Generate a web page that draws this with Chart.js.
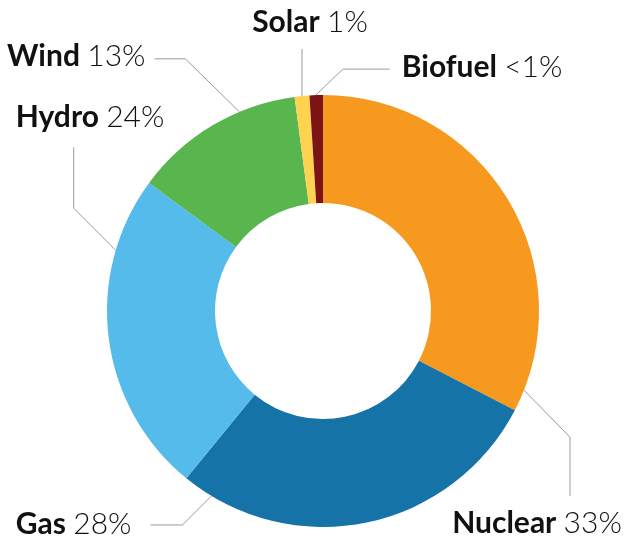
<!DOCTYPE html>
<html>
<head>
<meta charset="utf-8">
<script src="https://cdn.jsdelivr.net/npm/chart.js@4"></script>
<style>
  body { margin: 0; background: #fff; }
  canvas { display: block; }
</style>
</head>
<body>
<canvas id="chart" width="636" height="542"></canvas>
<script>
const categories = ["Nuclear", "Gas", "Hydro", "Wind", "Solar", "Biofuel"];
const shares = [32.6, 28.3, 24.2, 12.8, 1.1, 1.0];
const shareLabels = ["33%", "28%", "24%", "13%", "1%", "<1%"];
const colors = ["#F7991F", "#1573A8", "#55BBEA", "#59B54E", "#FFD24F", "#7C1416"];

// where each leader line leaves its slice (t = fraction along the arc),
// its two segments, and where the label sits relative to the line end
const leaders = [
    { t: 0.95, bend: [46, 47], end: [0, 59], align: "center", text: [-33, 37] },
    { t: 0.92, bend: [-29, 29], end: [-32, 0], align: "right", text: [-19, 9] },
    { t: 0.77, bend: [-42, -42], end: [0, -61], align: "left", text: [-58, -20] },
    { t: 0.67, bend: [-54, -53], end: [-31, 0], align: "right", text: [-9, 7] },
    { t: 0.5, bend: [0, -47], end: [0, 0], align: "center", text: [8, -17] },
    { t: 0.47, bend: [27, -26], end: [47, 0], align: "left", text: [12, 8] }
];

const FONT = "Lato, 'Open Sans', sans-serif";
const SIZE = 30;

const leaderPlugin = {
    id: "leaders",
    afterDraw(chart) {
        const ctx = chart.ctx;
        const meta = chart.getDatasetMeta(0);
        meta.data.forEach((arc, i) => {
            const p = arc.getProps(["x", "y", "startAngle", "endAngle", "outerRadius"], true);
            const l = leaders[i];
            const a = p.startAngle + l.t * (p.endAngle - p.startAngle);
            const x0 = p.x + Math.cos(a) * p.outerRadius;
            const y0 = p.y + Math.sin(a) * p.outerRadius;
            const x1 = x0 + l.bend[0], y1 = y0 + l.bend[1];
            const x2 = x1 + l.end[0], y2 = y1 + l.end[1];

            ctx.save();
            ctx.strokeStyle = "#9a9a9a";
            ctx.lineWidth = 1;
            ctx.beginPath();
            ctx.moveTo(x0, y0);
            ctx.lineTo(x1, y1);
            ctx.lineTo(x2, y2);
            ctx.stroke();

            // bold name + light percentage
            const name = categories[i] + " ";
            const pct = shareLabels[i];
            const boldFont = "bold " + SIZE + "px " + FONT;
            const lightFont = "300 " + SIZE + "px " + FONT;
            ctx.font = boldFont;
            const w1 = ctx.measureText(name).width;
            ctx.font = lightFont;
            const w2 = ctx.measureText(pct).width;
            const total = w1 + w2;
            let tx = x2 + l.text[0];
            if (l.align === "center") tx -= total / 2;
            if (l.align === "right") tx -= total;
            const ty = y2 + l.text[1];

            ctx.fillStyle = "#111";
            ctx.textAlign = "left";
            ctx.textBaseline = "alphabetic";
            ctx.font = boldFont;
            ctx.fillText(name, tx, ty);
            ctx.font = lightFont;
            ctx.fillText(pct, tx + w1, ty);
            ctx.restore();
        });
    }
};

const ctx = document.getElementById("chart").getContext("2d");
const chart = new Chart(ctx, {
    type: "doughnut",
    data: {
        labels: categories,
        datasets: [{
            data: shares,
            backgroundColor: colors,
            borderWidth: 0
        }]
    },
    options: {
        responsive: false,
        animation: false,
        cutout: "50%",
        layout: { padding: { left: 107, right: 97, top: 95, bottom: 15 } },
        plugins: {
            legend: { display: false },
            tooltip: { enabled: false }
        }
    },
    plugins: [leaderPlugin]
});
</script>
</body>
</html>
